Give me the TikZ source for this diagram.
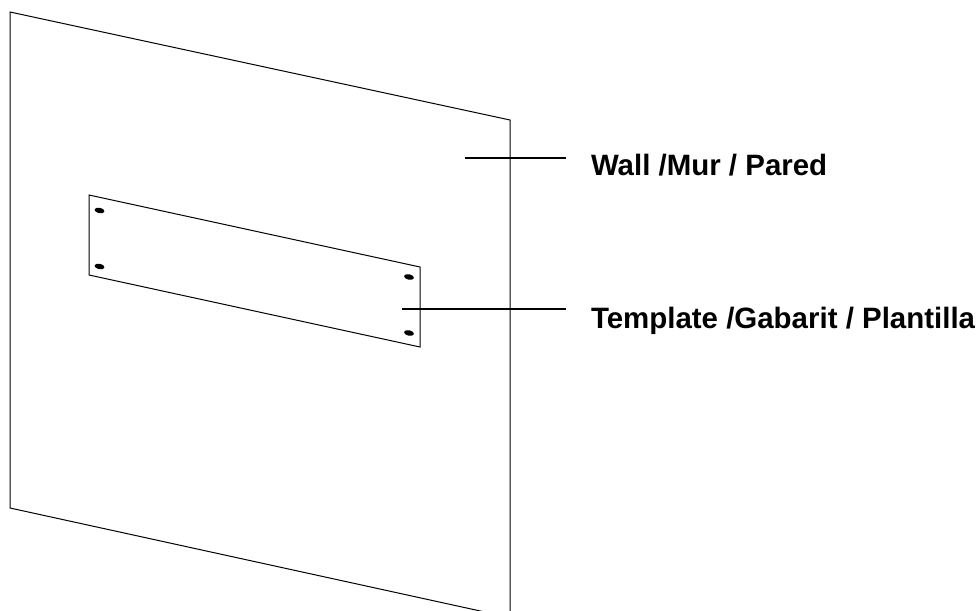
\documentclass[tikz,border=0pt]{standalone}
\usepackage{fontspec}
\setmainfont{Liberation Sans}
\usetikzlibrary{shapes.geometric}
\tikzset{
  edge line/.style={draw=black,line width=1pt,line join=miter},
  leader/.style={draw=black,line width=1.5pt},
  callout/.style={font=\fontsize{29.45pt}{34pt}\selectfont\bfseries,anchor=base west,inner sep=0pt,outer sep=0pt,text=black},
  hole/.style={fill=black,draw=none,ellipse,rotate=-12,minimum width=10pt,minimum height=5.5pt,inner sep=0pt}
}
\begin{document}
\begin{tikzpicture}[x=1pt,y=-1pt]
\useasboundingbox (0,0) rectangle (979,610);
\begin{scope}
\clip (0,0) rectangle (979,610);
\coordinate (wallTL) at (10,12);
\coordinate (wallTR) at (510,120);
\coordinate (wallBR) at (510,617.5);
\coordinate (wallBL) at (10,508);
\draw[edge line] (wallBR) -- (wallTR) -- (wallTL) -- (wallBL) -- (wallBR);
\coordinate (tplTL) at (89,195);
\coordinate (tplTR) at (420,267);
\coordinate (tplBR) at (420,347);
\coordinate (tplBL) at (89,275);
\draw[edge line] (tplTL) -- (tplTR) -- (tplBR) -- (tplBL) -- cycle;
\end{scope}
\node[hole] (h1) at (99.5,210.5) {};
\node[hole] (h2) at (99.5,266.5) {};
\node[hole] (h3) at (409,277) {};
\node[hole] (h4) at (409,333) {};
\node[callout] (wallLabel) at (591,175.2) {Wall /Mur / Pared};
\node[callout] (tplLabel) at (591,328) {Template /Gabarit / Plantilla};
\coordinate (wallEnd) at (465,158);
\coordinate (wallStart) at (566,158);
\coordinate (tplEnd) at (402,309);
\coordinate (tplStart) at (566,309);
\draw[leader] (wallStart) -- (wallEnd);
\draw[leader] (tplStart) -- (tplEnd);
\end{tikzpicture}
\end{document}
